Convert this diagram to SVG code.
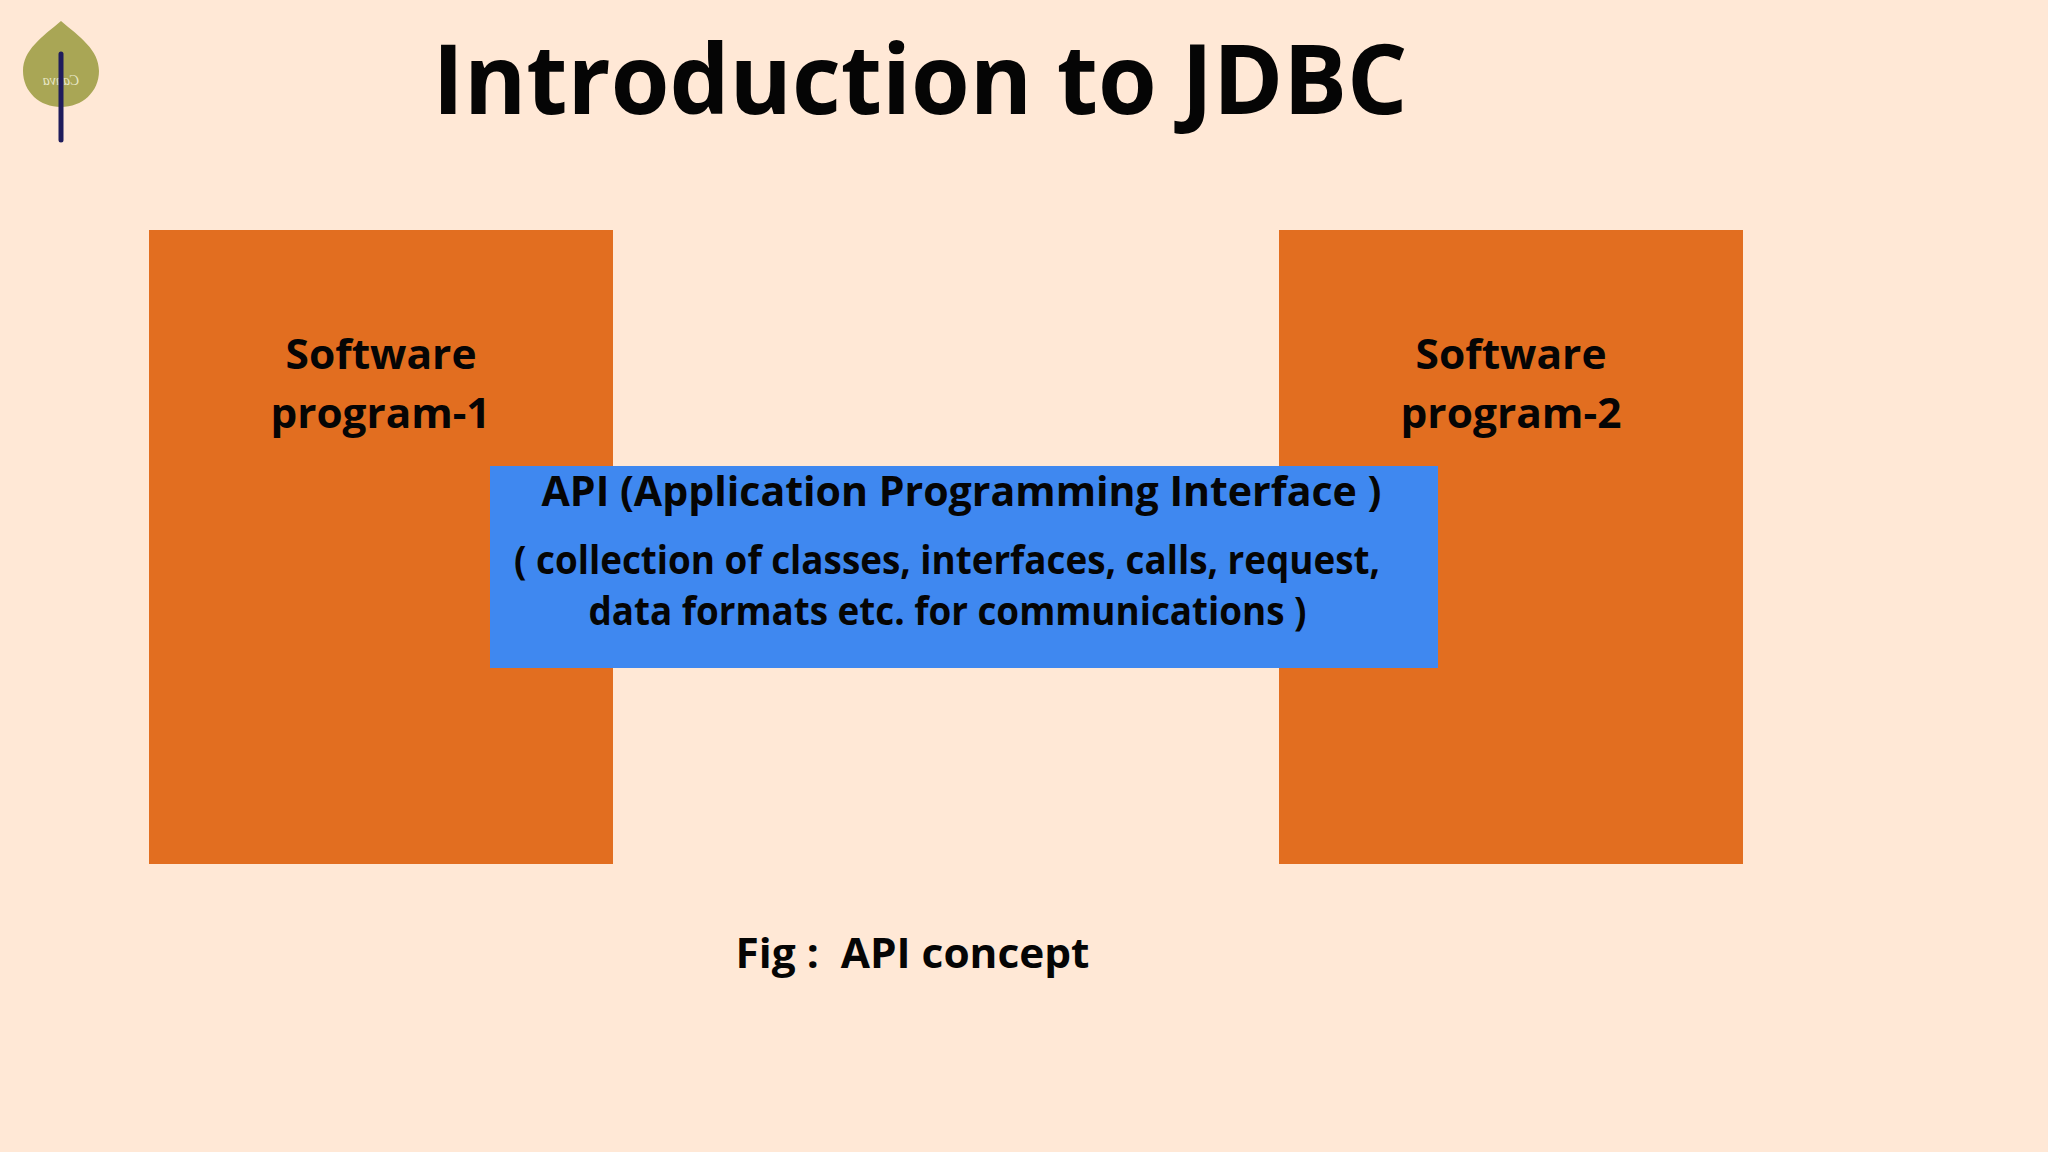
<svg xmlns="http://www.w3.org/2000/svg" width="2048" height="1152" viewBox="0 0 2048 1152">
<style>
text{font-family:"Open Sans","Noto Sans",sans-serif;font-weight:700;fill:#050505;text-anchor:middle}
.box{fill:#e26e20}
.t{font-size:42px}
.s{font-size:39px}
</style>
<rect width="2048" height="1152" fill="#ffe8d6"/>
<g id="logo">
<path d="M61 21C42 37 23 50 23 71C23 92 40 107 61 107C82 107 99 92 99 71C99 50 80 37 61 21Z" fill="#a9a655"/>
<text transform="translate(61 85) scale(-1 1)" style="font-size:14px;font-weight:400;fill:#e8e6c8;font-family:'Liberation Serif',serif;font-style:italic">Canva</text>
<line x1="61" y1="54" x2="61" y2="140" stroke="#1f1c5c" stroke-width="5" stroke-linecap="round"/>
</g>
<text id="title" x="920" y="114" style="font-size:96px" textLength="975" lengthAdjust="spacingAndGlyphs">Introduction to JDBC</text>
<g id="program-1"><rect class="box" x="149" y="230" width="464" height="634"/>
<text class="t" x="381" y="369" textLength="191" lengthAdjust="spacingAndGlyphs">Software</text><text class="t" x="380.5" y="428" textLength="220" lengthAdjust="spacingAndGlyphs">program-1</text></g>
<g id="program-2"><rect class="box" x="1279" y="230" width="464" height="634"/>
<text class="t" x="1511" y="369" textLength="191" lengthAdjust="spacingAndGlyphs">Software</text><text class="t" x="1511" y="428" textLength="221" lengthAdjust="spacingAndGlyphs">program-2</text></g>
<g id="api"><rect x="490" y="466" width="948" height="202" fill="#3f88f0"/>
<text class="t" x="961.5" y="506" textLength="840" lengthAdjust="spacingAndGlyphs">API (Application Programming Interface )</text>
<text class="s" x="947" y="574" textLength="866" lengthAdjust="spacingAndGlyphs">( collection of classes, interfaces, calls, request,</text>
<text class="s" x="947.5" y="625" textLength="718" lengthAdjust="spacingAndGlyphs">data formats etc. for communications )</text></g>
<text id="caption" x="912.5" y="968" style="font-size:42px" xml:space="preserve" textLength="354" lengthAdjust="spacingAndGlyphs">Fig :  API concept</text>
<g id="connectors"/>
</svg>
